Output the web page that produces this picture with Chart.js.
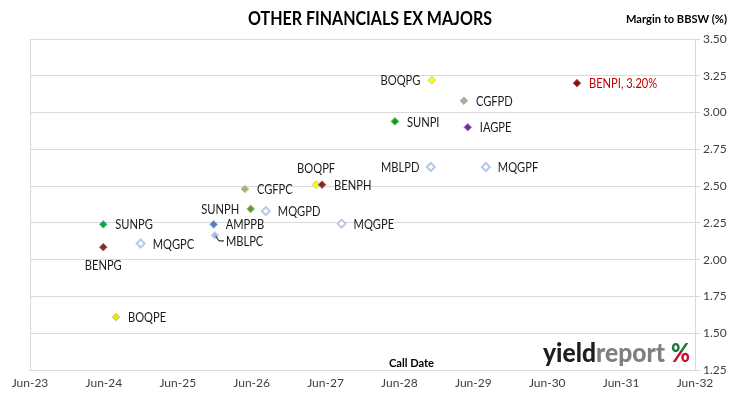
<!DOCTYPE html>
<html>
<head>
<meta charset="utf-8">
<script src="https://cdn.jsdelivr.net/npm/chart.js@4/dist/chart.umd.min.js"></script>
<style>
  html, body { margin: 0; padding: 0; background: #fff; }
  #wrap { width: 730px; height: 399px; position: relative; }
</style>
</head>
<body>
<div id="wrap"><canvas id="c" width="730" height="399"></canvas></div>
<script>
// ---------- DATA ----------
const names = ['BOQPG','BENPI','CGFPD','SUNPI','IAGPE','MBLPD','MQGPF','BOQPF','BENPH','CGFPC',
               'SUNPH','MQGPD','MQGPE','SUNPG','AMPPB','MBLPC','BENPG','MQGPC','BOQPE'];
const callDates = ['2028-11-09','2030-10-26','2029-04-15','2028-05-09','2029-05-04','2028-11-04','2029-08-02','2027-04-15','2027-05-14','2026-04-28',
                   '2026-05-26','2026-08-10','2027-08-19','2024-05-28','2025-11-26','2025-12-02','2024-05-28','2024-11-30','2024-07-30'];
const margins = [3.22, 3.20, 3.08, 2.94, 2.90, 2.63, 2.63, 2.51, 2.51, 2.48,
                 2.345, 2.33, 2.245, 2.24, 2.24, 2.165, 2.085, 2.11, 1.61];
const xTickLabels = ['Jun-23','Jun-24','Jun-25','Jun-26','Jun-27','Jun-28','Jun-29','Jun-30','Jun-31','Jun-32'];
const yTickLabels = ['1.25','1.50','1.75','2.00','2.25','2.50','2.75','3.00','3.25','3.50'];
const highlightLabel = 'BENPI, 3.20%';

// ---------- STYLES ----------
const pointFill = {
  BOQPG:'#ffff00', BENPI:'#8b0f0f', CGFPD:'#a3b58a', SUNPI:'#109e10', IAGPE:'#7030a0',
  MBLPD:'#ffffff', MQGPF:'#ffffff', BOQPF:'#ffff00', BENPH:'#7b2a2a', CGFPC:'#a4b27a',
  SUNPH:'#5e9a3a', MQGPD:'#ffffff', MQGPE:'#ffffff', SUNPG:'#00a850', AMPPB:'#4f81bd',
  MBLPC:'#a9bcd9', BENPG:'#7a2e2e', MQGPC:'#ffffff', BOQPE:'#e8e800'
};
const pointBorder = {
  BOQPG:'#c4c48e', BENPI:'#b05a5a', CGFPD:'#9fb3c8', SUNPI:'#4cc04c', IAGPE:'#9f7cc4',
  MBLPD:'#b8c9e6', MQGPF:'#b8c9e6', BOQPF:'#c4c48e', BENPH:'#a86a6a', CGFPC:'#b8c4a0',
  SUNPH:'#8cbc70', MQGPD:'#b8c9e6', MQGPE:'#b8c9e6', SUNPG:'#50c888', AMPPB:'#86a8d4',
  MBLPC:'#c8d5ea', BENPG:'#a86a6a', MQGPC:'#b8c9e6', BOQPE:'#c4c48e'
};
const hollow = ['MBLPD','MQGPF','MQGPD','MQGPE','MQGPC'];
const labelPlace = {
  BOQPG:'left', BENPI:'right', CGFPD:'right', SUNPI:'right', IAGPE:'right',
  MBLPD:'left', MQGPF:'right', BOQPF:'above', BENPH:'right', CGFPC:'right',
  SUNPH:'left', MQGPD:'right', MQGPE:'right', SUNPG:'right', AMPPB:'right',
  MBLPC:'leader', BENPG:'below', MQGPC:'right', BOQPE:'right'
};
const FONT = 'Lato, "Open Sans", sans-serif';
const LABEL_SQUEEZE = 0.87;

function toYear(s) {
  const [y, m, d] = s.split('-').map(Number);
  return y + (m - 1) / 12 + (d - 1) / 360;
}
const xTickValues = xTickLabels.map(l => 2000 + Number(l.slice(4)) + 5 / 12);
const yTickValues = yTickLabels.map(Number);

const points = names.map((n, i) => ({ x: toYear(callDates[i]), y: margins[i] }));

function fitText(ctx, text, x, y, width, align) {
  const w = ctx.measureText(text).width;
  const s = width / w;
  ctx.save();
  let x0 = x;
  if (align === 'center') x0 = x - width / 2;
  else if (align === 'right') x0 = x - width;
  ctx.translate(x0, y);
  ctx.scale(s, 1);
  ctx.textAlign = 'left';
  ctx.fillText(text, 0, 0);
  ctx.restore();
}
function squeezeText(ctx, text, x, y, align) {
  const w = ctx.measureText(text).width * LABEL_SQUEEZE;
  fitText(ctx, text, x, y, w, align);
}

const overlay = {
  id: 'overlay',
  beforeDraw(chart) {
    const ctx = chart.ctx;
    ctx.save();
    ctx.fillStyle = '#fff';
    ctx.fillRect(0, 0, chart.width, chart.height);
    ctx.restore();
  },
  afterDatasetsDraw(chart) {
    const ctx = chart.ctx;
    const a = chart.chartArea;
    ctx.save();
    ctx.strokeStyle = '#d9d9d9';
    ctx.lineWidth = 1;
    ctx.beginPath();
    ctx.moveTo(Math.round(a.left) + 0.5, a.top);
    ctx.lineTo(Math.round(a.left) + 0.5, a.bottom);
    ctx.stroke();

    // point labels
    const meta = chart.getDatasetMeta(0);
    ctx.font = '12.8px ' + FONT;
    ctx.textBaseline = 'middle';
    names.forEach((n, i) => {
      const el = meta.data[i];
      const px = el.x, py = el.y;
      const side = labelPlace[n];
      const text = n === 'BENPI' ? highlightLabel : n;
      ctx.fillStyle = n === 'BENPI' ? '#c00000' : '#1a1a1a';
      if (side === 'right') {
        squeezeText(ctx, text, px + 12, py + 1, 'left');
      } else if (side === 'left') {
        squeezeText(ctx, text, px - 11.5, py + 1, 'right');
      } else if (side === 'above') {
        squeezeText(ctx, text, px, py - 16, 'center');
      } else if (side === 'below') {
        squeezeText(ctx, text, px, py + 19, 'center');
      } else if (side === 'leader') {
        ctx.strokeStyle = '#000';
        ctx.lineWidth = 1;
        ctx.beginPath();
        ctx.moveTo(px + 1, py + 1);
        ctx.lineTo(px + 4, py + 5.5);
        ctx.lineTo(px + 9, py + 5.5);
        ctx.stroke();
        squeezeText(ctx, text, px + 11, py + 6, 'left');
      }
    });

    // title
    ctx.fillStyle = '#000';
    ctx.textBaseline = 'alphabetic';
    ctx.font = 'bold 18px ' + FONT;
    fitText(ctx, 'OTHER FINANCIALS EX MAJORS', 370, 25, 244, 'center');
    ctx.font = 'bold 11px ' + FONT;
    fitText(ctx, 'Margin to BBSW (%)', 727, 23, 101, 'right');
    ctx.font = 'bold 12px ' + FONT;
    fitText(ctx, 'Call Date', 389, 367, 45, 'left');

    // logo
    ctx.font = '900 27px ' + FONT;
    const ly = 362;
    const wy = ctx.measureText('yield').width, wr = ctx.measureText('report').width;
    const s = 122 / (wy + wr);
    ctx.save();
    ctx.translate(543, ly);
    ctx.scale(s, 1);
    ctx.textAlign = 'left';
    ctx.fillStyle = '#1e1e1e';
    ctx.fillText('yield', 0, 0);
    ctx.fillStyle = '#7f7f7f';
    ctx.fillText('report', wy, 0);
    ctx.restore();
    // percent sign
    ctx.save();
    ctx.font = '900 27px ' + FONT;
    const pw = ctx.measureText('%').width;
    ctx.translate(671, ly);
    ctx.scale(19 / pw, 1);
    ctx.save();
    ctx.beginPath(); ctx.rect(-2, -30, pw + 4, 19); ctx.clip();
    ctx.fillStyle = '#1f7a3a';
    ctx.fillText('%', 0, 0);
    ctx.restore();
    ctx.save();
    ctx.beginPath(); ctx.rect(-2, -11, pw + 4, 20); ctx.clip();
    ctx.fillStyle = '#c8102e';
    ctx.fillText('%', 0, 0);
    ctx.restore();
    ctx.restore();
    ctx.restore();
  }
};

new Chart(document.getElementById('c'), {
  type: 'scatter',
  data: {
    datasets: [{
      data: points,
      pointStyle: 'rectRot',
      pointRadius: names.map(n => hollow.includes(n) ? 4 : 3.8),
      pointHoverRadius: names.map(n => hollow.includes(n) ? 4 : 3.8),
      pointBackgroundColor: names.map(n => pointFill[n]),
      pointBorderColor: names.map(n => pointBorder[n]),
      pointBorderWidth: names.map(n => hollow.includes(n) ? 2 : 1),
      showLine: false
    }]
  },
  options: {
    responsive: false,
    animation: false,
    events: [],
    layout: { padding: { left: 30, top: 39, right: 0, bottom: 0 } },
    plugins: { legend: { display: false }, tooltip: { enabled: false } },
    scales: {
      x: {
        type: 'linear',
        min: xTickValues[0],
        max: xTickValues[xTickValues.length - 1],
        afterBuildTicks: s => { s.ticks = xTickValues.map(v => ({ value: v })); },
        afterFit: s => { s.height = 29; },
        grid: { display: false, drawTicks: false },
        border: { display: false },
        ticks: {
          callback: (v, i) => xTickLabels[i],
          color: '#404040',
          font: { family: FONT, size: 12 },
          padding: 6,
          maxRotation: 0,
          autoSkip: false
        }
      },
      y: {
        position: 'right',
        min: yTickValues[0],
        max: yTickValues[yTickValues.length - 1],
        afterBuildTicks: s => { s.ticks = yTickValues.map(v => ({ value: v })); },
        afterFit: s => { s.width = 35; },
        grid: { color: '#d9d9d9', lineWidth: 1, tickLength: 5, drawTicks: true, tickColor: '#d9d9d9' },
        border: { display: true, color: '#d9d9d9' },
        ticks: {
          callback: (v, i) => yTickLabels[i],
          color: '#404040',
          font: { family: FONT, size: 12 },
          padding: 3
        }
      }
    }
  },
  plugins: [overlay]
});
</script>
</body>
</html>
